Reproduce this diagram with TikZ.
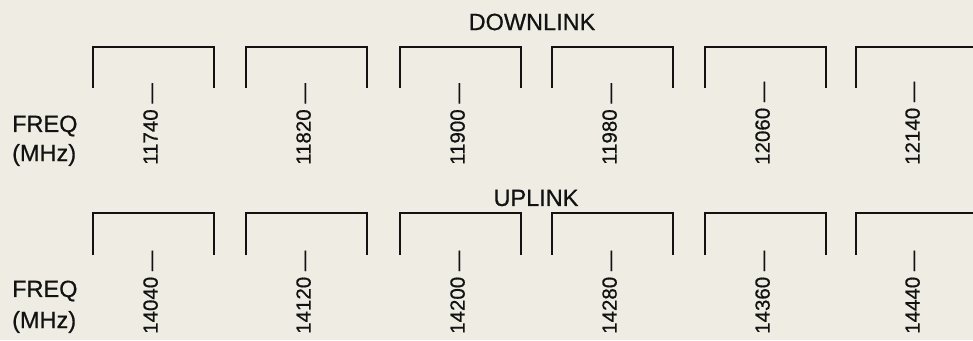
\documentclass[tikz,border=0pt]{standalone}
\usepackage{fontspec}
\setmainfont{Liberation Sans}[FakeBold=0.6]
\definecolor{bg}{RGB}{238,236,227}
\definecolor{ink}{RGB}{18,18,18}
\begin{document}
\begin{tikzpicture}[x=1pt,y=-1pt,
  brk/.style={draw=ink,line width=2.8pt,line join=miter,line cap=butt},
  word/.style={text=ink,font=\fontsize{23.5}{28}\selectfont,inner sep=0pt},
  flbl/.style={text=ink,font=\fontsize{20.5}{24}\selectfont,rotate=90,anchor=mid west,inner sep=0pt}]
\fill[bg] (0,0) rectangle (973,340);
\useasboundingbox (0,0) rectangle (973,340);
% titles
\node[word] (down) at (532,22) {DOWNLINK};
\node[word] (up) at (536,198) {UPLINK};
\node[word,anchor=west] (freqd) at (12,126) {FREQ};
\node[word,anchor=west] (mhzd) at (12,155) {(MHz)};
\node[word,anchor=west] (frequ) at (12,291) {FREQ};
\node[word,anchor=west] (mhzu) at (12,322) {(MHz)};
% brackets and labels
\foreach \i/\xs/\d/\u in {1/93/11740/14040, 2/246/11820/14120, 3/400/11900/14200,
                          4/552/11980/14280, 5/705/12060/14360} {
  \draw[brk] (\xs,88) -- (\xs,47) -- (\xs+121,47) -- (\xs+121,88);
  \draw[brk] (\xs,255) -- (\xs,213) -- (\xs+121,213) -- (\xs+121,255);
  \node[flbl] (d\i) at (\xs+62,165) {\d\ —};
  \node[flbl] (u\i) at (\xs+62,334) {\u\ —};
}
\draw[brk] (856,88) -- (856,47) -- (980,47);
\draw[brk] (856,255) -- (856,213) -- (980,213);
\node[flbl] (d6) at (917,165) {12140 —};
\node[flbl] (u6) at (917,334) {14440 —};
\end{tikzpicture}
\end{document}
